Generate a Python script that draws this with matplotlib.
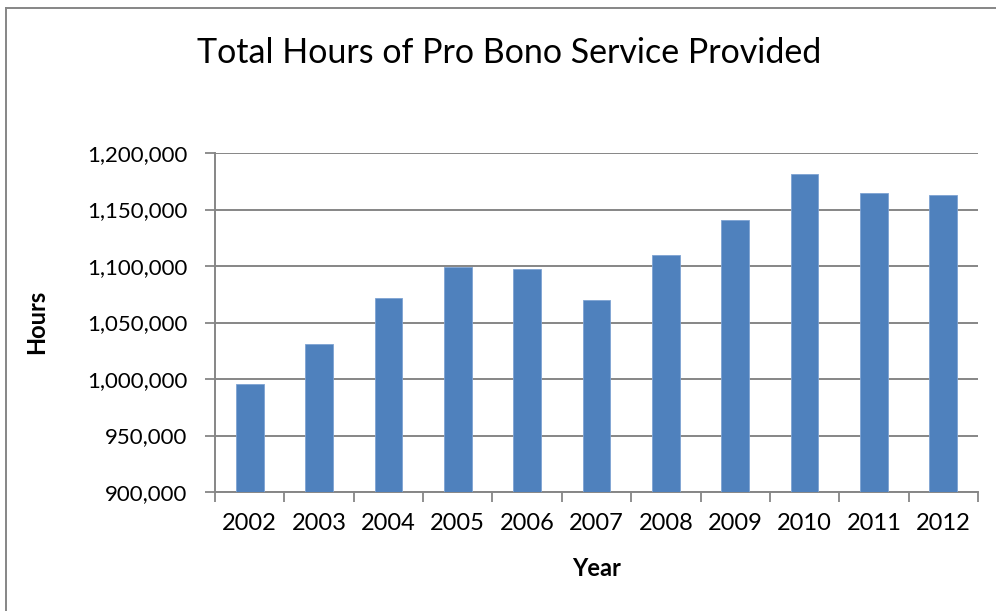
import numpy as np
import matplotlib
matplotlib.use("Agg")
import matplotlib.pyplot as plt
from matplotlib.ticker import FuncFormatter

years = ["2002", "2003", "2004", "2005", "2006", "2007",
         "2008", "2009", "2010", "2011", "2012"]
hours = [995300, 1031000, 1072000, 1098800, 1097600, 1069600,
         1109700, 1140400, 1181400, 1164300, 1162500]
yticks = [900000, 950000, 1000000, 1050000, 1100000, 1150000, 1200000]

plt.rcParams['font.family'] = ['Lato', 'DejaVu Sans']
grey = '#868686'

fig = plt.figure(figsize=(9.96, 6.11), dpi=100)
ax = fig.add_axes([215/996, 1-492/611, (978-215)/996, (492-153)/611])

x = np.arange(len(years))
ax.bar(x, hours, width=0.4, color='#4F81BD', edgecolor='#7EA3D3', linewidth=0.6, zorder=3)

ax.set_xlim(-0.5, len(years) - 0.5)
ax.set_ylim(900000, 1200000)
ax.set_yticks(yticks)
ax.yaxis.set_major_formatter(FuncFormatter(lambda v, p: f"{int(v):,}"))
ax.yaxis.grid(True, color=grey, linewidth=1.4, zorder=0)

ax.set_xticks(x)
ax.set_xticklabels(years)
ax.set_xticks(np.arange(-0.5, len(years)), minor=True)
ax.tick_params(axis='x', which='major', length=0, labelsize=17, pad=15)
ax.tick_params(axis='x', which='minor', length=7, color=grey, width=1.3)
ax.tick_params(axis='y', length=7, color=grey, width=1.3, labelsize=16, pad=13)

for s in ['top', 'right']:
    ax.spines[s].set_visible(False)
for s in ['left', 'bottom']:
    ax.spines[s].set_color(grey)
    ax.spines[s].set_linewidth(1.4)

ax.set_xlabel('Year', fontsize=17, fontweight='bold', va='center')
ax.xaxis.set_label_coords((597-215)/763, (492-568)/339)
ax.set_ylabel('Hours', fontsize=17, fontweight='bold', va='center', ha='center')
ax.yaxis.set_label_coords((37-215)/763, (492-322)/339)

fig.text(509/996, 1-53/611, 'Total Hours of Pro Bono Service Provided',
         ha='center', va='center', fontsize=24.5)

# chart border (cropped at right and bottom)
fig.add_artist(plt.Line2D([6/996, 6/996], [0, 1-8/611], color=grey, linewidth=1.4))
fig.add_artist(plt.Line2D([6/996, 1], [1-8/611, 1-8/611], color=grey, linewidth=1.4))

fig.savefig('out.png', dpi=100)
